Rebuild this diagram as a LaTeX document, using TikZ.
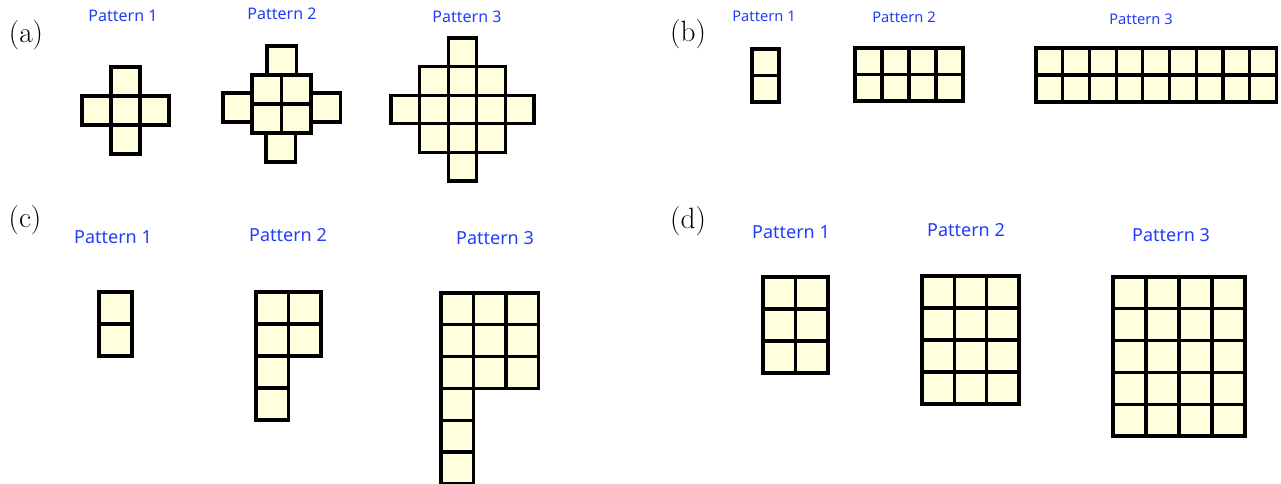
\documentclass[tikz,border=0pt]{standalone}
\usepackage{fontspec}
\newfontfamily\patfont{Noto Sans}
\usepackage{xcolor}
\definecolor{tilefill}{RGB}{255,255,222}
\definecolor{patblue}{RGB}{35,60,250}

\begin{document}
\begin{tikzpicture}[x=0.75pt, y=-0.75pt,
    tile/.style={draw=black, fill=tilefill, line width=2.4pt},
    panel/.style={font=\fontsize{22}{24}\selectfont, inner sep=0pt},
    patsmall/.style={text=patblue, inner sep=0pt, font=\patfont\fontsize{12}{14}\selectfont},
    patbig/.style={text=patblue, inner sep=0pt, font=\patfont\fontsize{13.5}{16}\selectfont}]
    \useasboundingbox (0,0) rectangle (1281,484);

    % Panel labels
    \node[panel] (laba) at (26,35) {(a)};
    \node[panel] (labb) at (688,34) {(b)};
    \node[panel] (labc) at (25,220) {(c)};
    \node[panel] (labd) at (688,221) {(d)};

    % (a) crosses
    \node[patsmall] (pa1) at (123,16) {Pattern 1};
    \node[patsmall] (pa2) at (282,14) {Pattern 2};
    \node[patsmall] (pa3) at (467,17) {Pattern 3};
    \foreach \c/\r in {1/0,0/1,1/1,2/1,1/2}
        \draw[tile] (82+\c*29,67+\r*29) rectangle ++(29,29);
    \foreach \x/\y in {267/46,223/93,311/93,252/75,281.5/75,252/104,281.5/104,266/133}
        \draw[tile] (\x,\y) rectangle ++(29.5,29);
    \foreach \c/\r in {2/0,1/1,2/1,3/1,0/2,1/2,2/2,3/2,4/2,1/3,2/3,3/3,2/4}
        \draw[tile] (391+\c*28.6,38+\r*28.6) rectangle ++(28.6,28.6);

    % (b) two-row strips
    \node[patsmall, font=\patfont\fontsize{11}{13}\selectfont] (pb1) at (764,16) {Pattern 1};
    \node[patsmall, font=\patfont\fontsize{11}{13}\selectfont] (pb2) at (904,17) {Pattern 2};
    \node[patsmall, font=\patfont\fontsize{11}{13}\selectfont] (pb3) at (1141,19) {Pattern 3};
    \foreach \r in {0,1}
        \draw[tile] (752,49+\r*26.5) rectangle ++(27,26.5);
    \foreach \c in {0,...,3}
        \foreach \r in {0,1}
            \draw[tile] (855+\c*27,48+\r*26.5) rectangle ++(27,26.5);
    \foreach \c in {0,...,8}
        \foreach \r in {0,1}
            \draw[tile] (1036+\c*26.7,48+\r*27) rectangle ++(26.7,27);

    % (c) L-shapes
    \node[patbig] (pc1) at (113,237) {Pattern 1};
    \node[patbig] (pc2) at (288,235) {Pattern 2};
    \node[patbig] (pc3) at (495,238) {Pattern 3};
    \foreach \r in {0,1}
        \draw[tile] (99,292+\r*32) rectangle ++(33,32);
    \foreach \c/\r in {0/0,1/0,0/1,1/1,0/2,0/3}
        \draw[tile] (256+\c*32.5,292+\r*32) rectangle ++(32.5,32);
    \foreach \c/\r in {0/0,1/0,2/0,0/1,1/1,2/1,0/2,1/2,2/2,0/3,0/4,0/5}
        \draw[tile] (441+\c*32.5,293+\r*31.8) rectangle ++(32.5,31.8);

    % (d) rectangles
    \node[patbig] (pd1) at (791,232) {Pattern 1};
    \node[patbig] (pd2) at (966,230) {Pattern 2};
    \node[patbig] (pd3) at (1171,235) {Pattern 3};
    \foreach \c in {0,1}
        \foreach \r in {0,...,2}
            \draw[tile] (763+\c*32.5,277+\r*32) rectangle ++(32.5,32);
    \foreach \c in {0,...,2}
        \foreach \r in {0,...,3}
            \draw[tile] (922+\c*32.3,276+\r*32) rectangle ++(32.3,32);
    \foreach \c in {0,...,3}
        \foreach \r in {0,...,4}
            \draw[tile] (1113+\c*33,277+\r*31.8) rectangle ++(33,31.8);
\end{tikzpicture}
\end{document}
